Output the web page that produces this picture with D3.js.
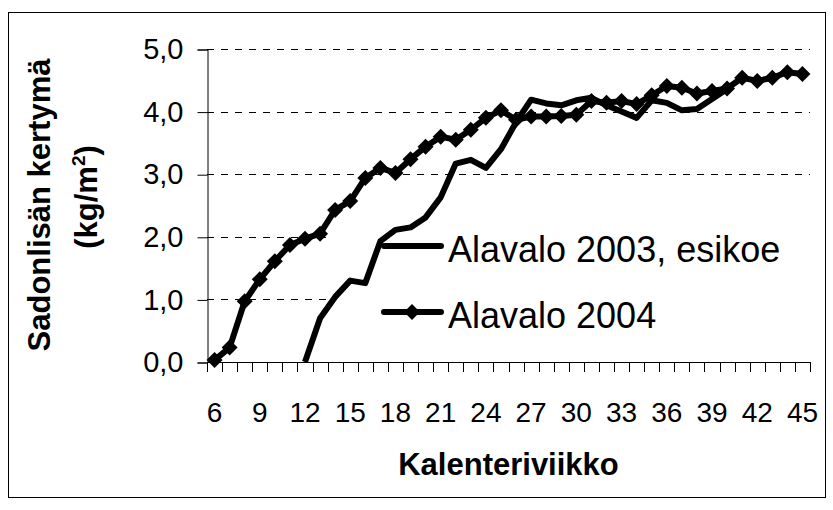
<!DOCTYPE html>
<html>
<head>
<meta charset="utf-8">
<script src="https://cdn.jsdelivr.net/npm/d3@7"></script>
<style>
  body { margin: 0; background: #fff; }
  svg text { font-family: Arial, "Liberation Sans", sans-serif; fill: #000; }
</style>
</head>
<body>
<div id="chart"></div>
<script>
// calendar weeks (categories)
var weeks = [6, 7, 8, 9, 10, 11, 12, 13, 14, 15, 16, 17, 18, 19, 20, 21, 22, 23, 24, 25,
  26, 27, 28, 29, 30, 31, 32, 33, 34, 35, 36, 37, 38, 39, 40, 41, 42, 43, 44, 45];

// Alavalo 2003, esikoe (weeks 12-40)
var alavalo2003 = [null, null, null, null, null, null, 0.00, 0.70, 1.04, 1.30,
  1.26, 1.93, 2.11, 2.15, 2.31, 2.63, 3.17, 3.23, 3.10, 3.40,
  3.83, 4.19, 4.13, 4.10, 4.18, 4.22, 4.10, 4.00, 3.90, 4.18,
  4.14, 4.02, 4.04, 4.20, 4.36, null, null, null, null, null];

// Alavalo 2004
var alavalo2004 = [0.03, 0.23, 0.97, 1.32, 1.61, 1.87, 1.97, 2.05, 2.43, 2.57,
  2.94, 3.10, 3.02, 3.24, 3.44, 3.60, 3.55, 3.71, 3.90, 4.02,
  3.87, 3.92, 3.92, 3.93, 3.95, 4.17, 4.14, 4.17, 4.12, 4.26,
  4.41, 4.38, 4.29, 4.33, 4.37, 4.54, 4.49, 4.54, 4.63, 4.60];

var yTicks = [0, 1, 2, 3, 4, 5];
var xLabels = [6, 9, 12, 15, 18, 21, 24, 27, 30, 33, 36, 39, 42, 45];
var seriesNames = ['Alavalo 2003, esikoe', 'Alavalo 2004'];

(function() {
  var w = 833, h = 510;
  var pLeft = 207, pRight = 810, pTop = 49, pBottom = 362;

  var svg = d3.select('#chart').append('svg').attr('width', w).attr('height', h);

  // outer frame
  svg.append('rect')
    .attr('x', 8.5).attr('y', 12.5)
    .attr('width', 817).attr('height', 485)
    .attr('fill', 'none').attr('stroke', '#000').attr('stroke-width', 1);

  var x = d3.scaleBand().domain(weeks).range([pLeft, pRight]).padding(0);
  var y = d3.scaleLinear().domain([0, 5]).range([pBottom, pTop]);
  var cx = function(wk) { return x(wk) + x.bandwidth() / 2; };

  // dashed gridlines
  svg.append('g')
    .selectAll('line')
    .data(yTicks.slice(1))
    .enter()
    .append('line')
    .attr('x1', pLeft).attr('x2', pRight)
    .attr('y1', function(d) { return Math.round(y(d)) + 0.5; })
    .attr('y2', function(d) { return Math.round(y(d)) + 0.5; })
    .attr('stroke', '#000')
    .attr('stroke-dasharray', '7,7');

  // legend box (white, hides the gridlines behind it)
  svg.append('rect')
    .attr('x', 327).attr('y', 212)
    .attr('width', pRight - 327).attr('height', 136)
    .attr('fill', '#fff');

  // y axis
  var yAxis = d3.axisLeft(y).tickValues(yTicks).tickSize(10).tickPadding(14)
    .tickFormat(function(d) { return d3.format('.1f')(d).replace('.', ','); });
  svg.append('g').attr('transform', 'translate(' + (pLeft + 0.5) + ',0.5)').call(yAxis)
    .call(function(g) {
      g.select('.domain').attr('stroke', '#000');
      g.selectAll('.tick line').attr('stroke', '#000');
      g.selectAll('.tick text').attr('font-size', '29px').attr('font-family', 'Arial, "Liberation Sans", sans-serif');
    });

  // x axis: ticks between categories, label every third week
  var bounds = weeks.map(function(wk) { return x(wk); }).concat([pRight]);
  svg.append('g')
    .selectAll('line')
    .data(bounds)
    .enter()
    .append('line')
    .attr('x1', function(d) { return Math.round(d) + 0.5; })
    .attr('x2', function(d) { return Math.round(d) + 0.5; })
    .attr('y1', pBottom).attr('y2', pBottom + 10)
    .attr('stroke', '#000');

  var xAxis = d3.axisBottom(x).tickValues(xLabels).tickSize(0).tickPadding(0);
  svg.append('g').attr('transform', 'translate(0,' + (pBottom + 0.5) + ')').call(xAxis)
    .call(function(g) {
      g.select('.domain').attr('stroke', '#000').attr('d', 'M' + pLeft + ',0H' + pRight);
      g.selectAll('.tick text').attr('font-size', '28px').attr('dy', null).attr('y', 59)
        .attr('font-family', 'Arial, "Liberation Sans", sans-serif');
    });

  // lines
  var line = d3.line()
    .defined(function(d) { return d.v !== null; })
    .x(function(d) { return cx(d.wk); })
    .y(function(d) { return y(d.v); });

  var data2003 = weeks.map(function(wk, i) { return { wk: wk, v: alavalo2003[i] }; });
  var data2004 = weeks.map(function(wk, i) { return { wk: wk, v: alavalo2004[i] }; });

  svg.append('path').datum(data2003)
    .attr('d', line)
    .attr('fill', 'none').attr('stroke', '#000').attr('stroke-width', 6)
    .attr('stroke-linejoin', 'round');

  svg.append('path').datum(data2004)
    .attr('d', line)
    .attr('fill', 'none').attr('stroke', '#000').attr('stroke-width', 6)
    .attr('stroke-linejoin', 'round');

  var diamond = 'M0,-8L8,0L0,8L-8,0Z';
  svg.append('g')
    .selectAll('path')
    .data(data2004)
    .enter()
    .append('path')
    .attr('d', diamond)
    .attr('transform', function(d) { return 'translate(' + cx(d.wk) + ',' + y(d.v) + ')'; })
    .attr('fill', '#000');

  // legend
  var legendY = [246, 312];
  var leg = svg.append('g');
  leg.selectAll('line')
    .data(seriesNames)
    .enter()
    .append('line')
    .attr('x1', 384).attr('x2', 441)
    .attr('y1', function(d, i) { return legendY[i]; })
    .attr('y2', function(d, i) { return legendY[i]; })
    .attr('stroke', '#000').attr('stroke-width', 6)
    .attr('stroke-linecap', 'round');
  leg.append('path').attr('d', diamond)
    .attr('transform', 'translate(412,' + legendY[1] + ')').attr('fill', '#000');
  leg.selectAll('text')
    .data(seriesNames)
    .enter()
    .append('text')
    .attr('x', 448)
    .attr('y', function(d, i) { return legendY[i] + 16; })
    .attr('font-size', '36px')
    .text(function(d) { return d; });

  // axis titles
  svg.append('text')
    .attr('x', (pLeft + pRight) / 2).attr('y', 475)
    .attr('text-anchor', 'middle')
    .attr('font-size', '31px').attr('font-weight', 'bold')
    .text('Kalenteriviikko');

  var yt = svg.append('g').attr('transform', 'rotate(-90)');
  yt.append('text')
    .attr('x', -205).attr('y', 50)
    .attr('text-anchor', 'middle')
    .attr('font-size', '31px').attr('font-weight', 'bold')
    .text('Sadonlisän kertymä');
  var yt2 = yt.append('text')
    .attr('x', -197).attr('y', 97)
    .attr('text-anchor', 'middle')
    .attr('font-size', '31px').attr('font-weight', 'bold');
  yt2.append('tspan').text('(kg/m');
  yt2.append('tspan').attr('dy', -12).attr('font-size', '19px').text('2');
  yt2.append('tspan').attr('dy', 12).text(')');
})();
</script>
</body>
</html>
